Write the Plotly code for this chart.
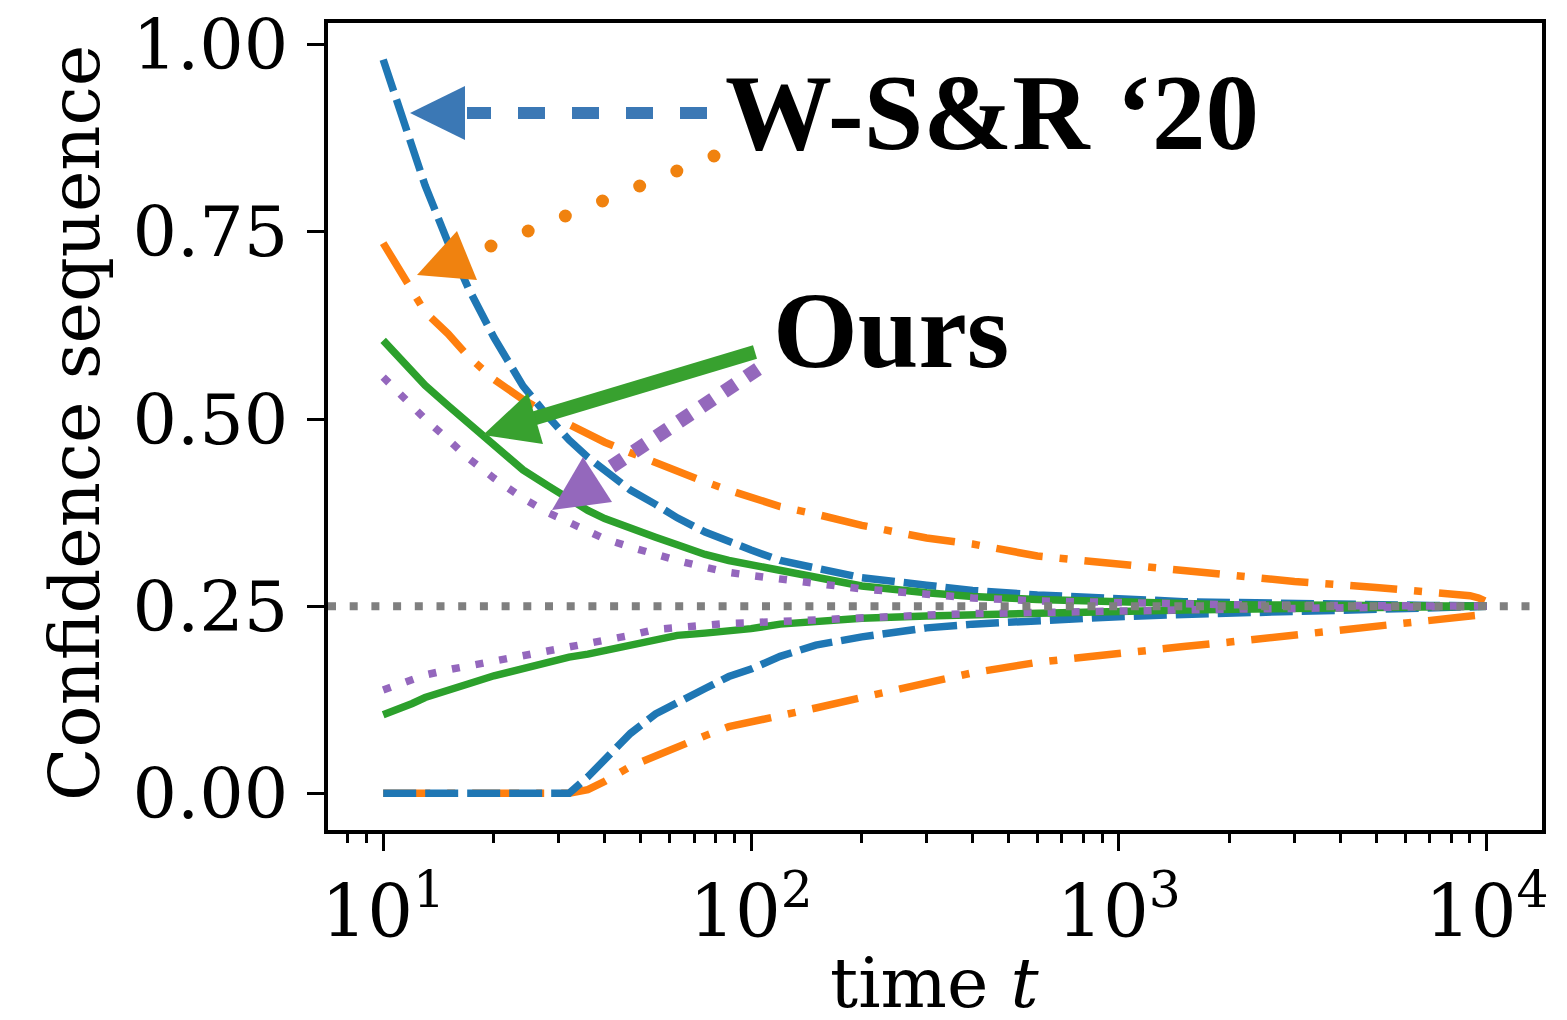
import plotly.graph_objects as go

# ---------------- data ----------------
t = [10, 11, 12, 13, 15, 17, 20, 24, 28, 32, 36, 40, 47, 55, 63, 75, 87, 100,
     120, 150, 200, 300, 400, 600, 1000, 1500, 2000, 3000, 5000, 7000, 8000,
     9000, 9500, 9900, 10000]

wsr_blue_hi = [0.98, 0.918, 0.858, 0.812, 0.736, 0.676, 0.609, 0.544, 0.504, 0.472,
               0.449, 0.432, 0.405, 0.386, 0.368, 0.349, 0.336, 0.325, 0.311, 0.300,
               0.288, 0.278, 0.271, 0.265, 0.259, 0.256, 0.255, 0.253, 0.252, 0.251,
               0.2508, 0.2505, 0.2503, 0.2501, 0.25]
wsr_blue_lo = [0, 0, 0, 0, 0, 0, 0, 0, 0, 0.0, 0.022, 0.045, 0.080, 0.106, 0.122,
               0.140, 0.156, 0.166, 0.183, 0.198, 0.209, 0.221, 0.226, 0.231, 0.236,
               0.239, 0.241, 0.244, 0.246, 0.248, 0.2485, 0.249, 0.2495, 0.2499, 0.25]

wsr_orange_hi = [0.735, 0.70, 0.668, 0.643, 0.614, 0.584, 0.553, 0.526, 0.507, 0.492,
                 0.479, 0.469, 0.455, 0.441, 0.430, 0.416, 0.405, 0.395, 0.383, 0.373,
                 0.358, 0.341, 0.333, 0.317, 0.306, 0.296, 0.290, 0.283, 0.275, 0.269,
                 0.266, 0.264, 0.261, 0.257, 0.25]
wsr_orange_lo = [0, 0, 0, 0, 0, 0, 0, 0, 0, 0, 0.005, 0.016, 0.036, 0.050, 0.063,
                 0.077, 0.089, 0.095, 0.103, 0.114, 0.128, 0.146, 0.161, 0.175, 0.188,
                 0.196, 0.202, 0.211, 0.223, 0.230, 0.233, 0.236, 0.238, 0.242, 0.25]

ours_green_hi = [0.605, 0.582, 0.562, 0.545, 0.518, 0.495, 0.463, 0.432, 0.411, 0.393,
                 0.378, 0.367, 0.353, 0.342, 0.332, 0.319, 0.311, 0.305, 0.298, 0.287,
                 0.277, 0.268, 0.263, 0.259, 0.255, 0.253, 0.252, 0.2515, 0.251, 0.2505,
                 0.2504, 0.2503, 0.2502, 0.2501, 0.25]
ours_green_lo = [0.105, 0.112, 0.120, 0.128, 0.139, 0.146, 0.157, 0.167, 0.175, 0.182,
                 0.186, 0.191, 0.199, 0.207, 0.211, 0.214, 0.216, 0.220, 0.226, 0.230,
                 0.234, 0.237, 0.239, 0.241, 0.243, 0.245, 0.246, 0.247, 0.248, 0.249,
                 0.2492, 0.2495, 0.2497, 0.2499, 0.25]

ours_purple_hi = [0.556, 0.535, 0.516, 0.500, 0.473, 0.448, 0.421, 0.394, 0.375, 0.361,
                  0.350, 0.340, 0.329, 0.319, 0.311, 0.302, 0.295, 0.291, 0.286, 0.280,
                  0.273, 0.266, 0.261, 0.257, 0.254, 0.253, 0.252, 0.251, 0.2505, 0.2503,
                  0.2502, 0.2502, 0.2501, 0.2500, 0.25]
ours_purple_lo = [0.138, 0.146, 0.152, 0.158, 0.165, 0.170, 0.177, 0.183, 0.188, 0.194,
                  0.198, 0.203, 0.211, 0.219, 0.222, 0.224, 0.227, 0.228, 0.230, 0.232,
                  0.235, 0.238, 0.240, 0.242, 0.244, 0.245, 0.246, 0.247, 0.248, 0.249,
                  0.2492, 0.2495, 0.2497, 0.2499, 0.25]

TRUE_MEAN = 0.25

x_tick_vals = [10, 100, 1000, 10000]
x_tick_text = ["10<sup>1</sup>", "10<sup>2</sup>", "10<sup>3</sup>", "10<sup>4</sup>"]
minor_ticks = [m * 10 ** k for k in range(0, 4) for m in range(2, 10)]
y_tick_vals = [0.0, 0.25, 0.5, 0.75, 1.0]
y_tick_text = ["0.00", "0.25", "0.50", "0.75", "1.00"]

# ---------------- styles ----------------
BLUE, ORANGE, GREEN, PURPLE, GRAY = "#1f77b4", "#ff7f0e", "#2ca02c", "#9467bd", "#7f7f7f"
LW = 7.5
W, H = 1567, 1020
ML, MR, MT, MB = 328, 25, 23, 190
PW, PH = W - ML - MR, H - MT - MB

fig = go.Figure()

def add(y, color, dash):
    fig.add_trace(go.Scatter(x=t, y=y, mode="lines",
                             line=dict(color=color, width=LW, dash=dash),
                             hoverinfo="skip", showlegend=False))

DASHDOT = "47px,17px,8px,17px"
DASHED = "33px,9px"
DOTTED = "8px,16px"
add(wsr_orange_hi, ORANGE, DASHDOT)
add(wsr_orange_lo, ORANGE, DASHDOT)
add(wsr_blue_hi, BLUE, DASHED)
add(wsr_blue_lo, BLUE, DASHED)
add(ours_green_hi, GREEN, "solid")
add(ours_green_lo, GREEN, "solid")
add(ours_purple_hi, PURPLE, DOTTED)
add(ours_purple_lo, PURPLE, DOTTED)

shapes = []
# true-mean reference line
shapes.append(dict(type="line", xref="paper", yref="y", x0=0, x1=1,
                   y0=TRUE_MEAN, y1=TRUE_MEAN,
                   line=dict(color=GRAY, width=8, dash="8px,13.7px")))

# helpers converting pixel positions to paper coordinates (annotation decorations)
def px(x):
    return (x - ML) / PW

def py(y):
    return (H - MB - y) / PH

def tri(p1, p2, p3, color):
    path = "M {:.5f},{:.5f} L {:.5f},{:.5f} L {:.5f},{:.5f} Z".format(
        px(p1[0]), py(p1[1]), px(p2[0]), py(p2[1]), px(p3[0]), py(p3[1]))
    return dict(type="path", xref="paper", yref="paper", path=path,
                fillcolor=color, line=dict(color=color, width=0))

def seg(a, b, color, width, dash="solid"):
    return dict(type="line", xref="paper", yref="paper",
                x0=px(a[0]), y0=py(a[1]), x1=px(b[0]), y1=py(b[1]),
                line=dict(color=color, width=width, dash=dash))

A_BLUE, A_ORANGE, A_GREEN, A_PURPLE = "#3b78b5", "#f0820f", "#38a12f", "#9468bc"

# blue arrow (dashed)
shapes.append(seg((707, 113), (467, 113), A_BLUE, 12, "27px,27px"))
shapes.append(tri((410, 113), (465, 86), (465, 140), A_BLUE))
# orange arrow (round dots)
n_dots = 7
d0, d1 = (714, 156), (491, 246)
for i in range(n_dots):
    cx = d0[0] + (d1[0] - d0[0]) * i / (n_dots - 1)
    cy = d0[1] + (d1[1] - d0[1]) * i / (n_dots - 1)
    r = 6.5
    shapes.append(dict(type="circle", xref="paper", yref="paper",
                       x0=px(cx - r), x1=px(cx + r), y0=py(cy + r), y1=py(cy - r),
                       fillcolor=A_ORANGE, line=dict(color=A_ORANGE, width=0)))
shapes.append(tri((417, 275), (457, 231), (477, 280), A_ORANGE))
# green arrow (solid)
shapes.append(seg((755, 352), (532, 419), A_GREEN, 14))
shapes.append(tri((483, 435), (528, 393), (543, 444), A_GREEN))
# purple arrow (square dots)
shapes.append(seg((758, 369), (611, 467), A_PURPLE, 14, "14px,13px"))
shapes.append(tri((552, 510), (583, 457), (612, 502), A_PURPLE))

annotations = [
    dict(text="<b>W-S&amp;R \u201820</b>", xref="paper", yref="paper",
         x=px(723), y=py(113), xanchor="left", yanchor="middle", showarrow=False,
         font=dict(family="Liberation Serif", size=107, color="black")),
    dict(text="<b>Ours</b>", xref="paper", yref="paper",
         x=px(771), y=py(330), xanchor="left", yanchor="middle", showarrow=False,
         font=dict(family="Liberation Serif", size=109, color="black")),
    dict(text="time <i>t</i>", xref="paper", yref="paper",
         x=px(935), y=py(983), xanchor="center", yanchor="middle", showarrow=False,
         font=dict(family="DejaVu Serif", size=70, color="black")),
    dict(text="Confidence sequence", xref="paper", yref="paper",
         x=px(75), y=py(423), xanchor="center", yanchor="middle", showarrow=False,
         textangle=-90,
         font=dict(family="DejaVu Serif", size=70, color="black")),
]

fig.update_layout(
    width=W, height=H,
    margin=dict(l=ML, r=MR, t=MT, b=MB, autoexpand=False),
    plot_bgcolor="white", paper_bgcolor="white",
    showlegend=False,
    shapes=shapes, annotations=annotations,
    xaxis=dict(type="log", range=[0.85, 4.15], automargin=False,
               tickmode="array", tickvals=x_tick_vals, ticktext=x_tick_text,
               ticks="outside", ticklen=17, tickwidth=3, tickcolor="black",
               showline=True, linewidth=3.5, linecolor="black", mirror=True,
               showgrid=False, zeroline=False,
               minor=dict(tickmode="array", tickvals=minor_ticks, ticks="outside",
                          ticklen=9, tickwidth=2.5, tickcolor="black", showgrid=False),
               tickfont=dict(family="DejaVu Serif", size=72, color="black")),
    yaxis=dict(range=[-0.049, 1.029], automargin=False,
               tickmode="array", tickvals=y_tick_vals, ticktext=y_tick_text,
               ticks="outside", ticklen=17, tickwidth=3, tickcolor="black",
               showline=True, linewidth=3.5, linecolor="black", mirror=True,
               showgrid=False, zeroline=False, ticklabelstandoff=5,
               tickfont=dict(family="DejaVu Serif", size=70, color="black")),
)

fig.write_html("out.html",
               config={"displayModeBar": False},
               post_script="document.body.style.margin='0';document.body.style.padding='0';")
